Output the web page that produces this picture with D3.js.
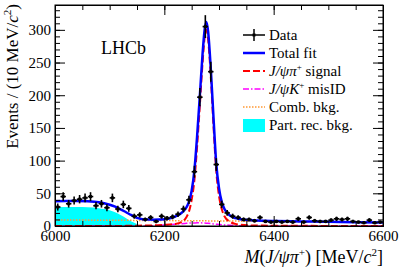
<!DOCTYPE html>
<html>
<head>
<meta charset="utf-8">
<script src="https://cdn.jsdelivr.net/npm/d3@7"></script>
<style>
  body { margin: 0; background: #fff; }
  svg { display: block; font-family: "Liberation Serif", "Times New Roman", serif; }
</style>
</head>
<body>
<svg id="chart" width="399" height="270"></svg>
<script>
// data points: bin centres (10 MeV bins) and counts
var binCentres = [6005,6015,6025,6035,6045,6055,6065,6075,6085,6095,6105,6115,6125,6135,6145,6155,6165,6175,6185,6195,
                  6205,6215,6225,6235,6245,6255,6265,6275,6285,6295,6305,6315,6325,6335,6345,6355,6365,6375,6385,6395,
                  6405,6415,6425,6435,6445,6455,6465,6475,6485,6495,6505,6515,6525,6535,6545,6555,6565,6575,6585,6595];
var counts = [29,45,34,39,41,43,45,31,34,28,43,26,33,27,15,17,10,13,7,15,
              12,14,18,26,40,83,197,305,236,94,33,20,15,13,10,10,8,13,7,6,
              7,6,7,6,11,6,13,8,7,7,9,11,10,11,7,6,5,9,5,6];

// fit curves
var curveMass = [6000,6020,6040,6060,6080,6090,6100,6110,6120,6130,6140,6150,6160,6170,6180,6190,6200,6210,6220,6230,
                 6240,6245,6250,6255,6260,6265,6270,6274,6277,6280,6285,6290,6295,6300,6305,6310,6320,6330,6340,6360,
                 6380,6400,6450,6500,6550,6600];
var totalFit = [37.8,38.2,38.3,37.8,36.3,34.8,32.5,29.5,25.5,21,16.5,12.5,10.5,10,9.7,9.9,10.5,11.7,14.5,19,
                28,37,54,85,138,200,264,302,312,298,240,165,95,58,37,26,16,12.2,10.3,8.8,
                8.0,7.6,7.0,6.4,5.9,5.5];
var signalFit = [0,0,0,0,0,0,0,0,0.1,0.2,0.3,0.5,0.6,0.8,1.0,1.3,1.7,2.2,3.2,5.5,
                 13,22,40,70,122,185,250,290,300,286,228,152,84,46,26,15,6.5,3.2,1.9,0.9,
                 0.6,0.4,0.25,0.15,0.1,0.05];
var misIDFit = [0,0,0,0,0,0,0,0,0,0,0,0,0.1,0.3,0.6,1.0,1.5,2.1,2.8,3.5,
                4.1,4.4,4.6,4.7,4.8,4.8,4.7,4.5,4.3,4.1,3.7,3.2,2.8,2.4,2.0,1.7,1.1,0.7,0.4,0.15,
                0.05,0,0,0,0,0];
var combMass = [6000,6100,6200,6300,6400,6500,6600];
var combFit = [9.3,8.8,8.3,7.7,7.0,6.2,5.4];
var partMass = [6000,6020,6040,6060,6080,6090,6100,6110,6120,6130,6140,6150,6155,6160];
var partFit = [28.5,29,29,28.5,27.3,26,24,21,17,12,7,3,1,0];

var xTicks = [6000,6200,6400,6600];
var yTicks = [0,50,100,150,200,250,300];

var serif = '"Liberation Serif", "Times New Roman", serif';
var svg = d3.select("#chart");
var pLeft = 55, pRight = 383, pTop = 5, pBottom = 226;

var x = d3.scaleLinear().domain([6000, 6600]).range([pLeft, pRight]);
var y = d3.scaleLinear().domain([0, 338]).range([pBottom, pTop]);

svg.append("defs").append("clipPath").attr("id", "plotArea")
  .append("rect").attr("x", pLeft).attr("y", pTop).attr("width", pRight - pLeft).attr("height", pBottom - pTop);

var plot = svg.append("g").attr("clip-path", "url(#plotArea)");

// part. rec. background (filled)
plot.append("path")
  .datum(d3.zip(partMass, partFit))
  .attr("fill", "#00ffff")
  .attr("d", d3.area().x(function(d) { return x(d[0]); }).y0(y(0)).y1(function(d) { return y(d[1]); }).curve(d3.curveMonotoneX));

function drawCurve(mass, vals, colour, width, dash) {
  plot.append("path")
    .datum(d3.zip(mass, vals))
    .attr("fill", "none")
    .attr("stroke", colour)
    .attr("stroke-width", width)
    .attr("stroke-dasharray", dash)
    .attr("d", d3.line().x(function(d) { return x(d[0]); }).y(function(d) { return y(d[1]); }).curve(d3.curveMonotoneX));
}
drawCurve(combMass, combFit, "#ff9933", 1.5, "1.5,1.5");
drawCurve(curveMass, misIDFit, "#ff00ff", 1.5, "6,2,1.5,2");
drawCurve(curveMass, signalFit, "#ff0000", 2, "7,3");
drawCurve(curveMass, totalFit, "#0000ff", 2.5, null);

// data with error bars
var pts = plot.append("g").attr("stroke", "#000").attr("stroke-width", 1.6);
binCentres.forEach(function(m, i) {
  var n = counts[i], err = Math.sqrt(n);
  pts.append("line").attr("x1", x(m - 5)).attr("x2", x(m + 5)).attr("y1", y(n)).attr("y2", y(n));
  pts.append("line").attr("x1", x(m)).attr("x2", x(m)).attr("y1", y(n - err)).attr("y2", y(n + err));
  pts.append("rect").attr("x", x(m) - 1.5).attr("y", y(n) - 1.5).attr("width", 3).attr("height", 3)
    .attr("fill", "#000").attr("stroke", "none");
});

// axes, ROOT style ticks pointing inwards
var xMinor = d3.range(6000, 6601, 50);
var yMinor = d3.range(0, 338, 10);

function addAxis(axis, tx, ty) {
  var g = svg.append("g").attr("transform", "translate(" + tx + "," + ty + ")");
  g.call(axis);
  g.selectAll("text")
    .style("font-family", serif)
    .style("font-size", "15px")
    .style("fill", "#000");
  return g;
}
addAxis(d3.axisBottom(x).tickValues(xMinor).tickSize(-5).tickFormat(""), 0, pBottom);
addAxis(d3.axisBottom(x).tickValues(xTicks).tickSize(-10).tickSizeOuter(0).tickPadding(4).tickFormat(d3.format("d")), 0, pBottom);
addAxis(d3.axisTop(x).tickValues(xMinor).tickSize(-5).tickFormat(""), 0, pTop);
addAxis(d3.axisTop(x).tickValues(xTicks).tickSize(-10).tickSizeOuter(0).tickFormat(""), 0, pTop);
addAxis(d3.axisLeft(y).tickValues(yMinor).tickSize(-5).tickFormat(""), pLeft, 0);
addAxis(d3.axisLeft(y).tickValues(yTicks).tickSize(-10).tickSizeOuter(0).tickPadding(4), pLeft, 0);
addAxis(d3.axisRight(y).tickValues(yMinor).tickSize(-5).tickFormat(""), pRight, 0);
addAxis(d3.axisRight(y).tickValues(yTicks).tickSize(-10).tickSizeOuter(0).tickFormat(""), pRight, 0);

svg.append("rect").attr("x", pLeft).attr("y", pTop).attr("width", pRight - pLeft).attr("height", pBottom - pTop)
  .attr("fill", "none").attr("stroke", "#000").attr("stroke-width", 1);

// axis titles
var xt = svg.append("text").attr("x", pRight).attr("y", 263).attr("text-anchor", "end").attr("font-size", 18);
xt.append("tspan").attr("font-style", "italic").text("M");
xt.append("tspan").text("(");
xt.append("tspan").attr("font-style", "italic").text("J/ψπ");
xt.append("tspan").attr("font-size", 11).attr("dy", -7).text("+");
xt.append("tspan").attr("dy", 7).text(") [MeV/");
xt.append("tspan").attr("font-style", "italic").text("c");
xt.append("tspan").attr("font-size", 11).attr("dy", -7).text("2");
xt.append("tspan").attr("dy", 7).text("]");

var yt = svg.append("text").attr("transform", "translate(18,4) rotate(-90)")
  .attr("text-anchor", "end").attr("font-size", 17);
yt.append("tspan").text("Events / (10 MeV/");
yt.append("tspan").attr("font-style", "italic").text("c");
yt.append("tspan").attr("font-size", 11).attr("dy", -7).text("2");
yt.append("tspan").attr("dy", 7).text(")");

svg.append("text").attr("x", 101).attr("y", 54).attr("font-size", 18).text("LHCb");

// legend
var lx0 = 243, lx1 = 265, tx = 269;
var leg = svg.append("g").attr("font-size", 15);
function legText(yc, parts) {
  var t = leg.append("text").attr("x", tx).attr("y", yc + 5);
  parts.forEach(function(p) {
    var s = t.append("tspan").text(p[0]);
    if (p[1] == "i") s.attr("font-style", "italic");
    if (p[1] == "sup") s.attr("font-size", 9).attr("dy", -6);
    if (p[1] == "after") s.attr("dy", 6);
  });
}
leg.append("line").attr("x1", lx0).attr("x2", lx1).attr("y1", 35).attr("y2", 35).attr("stroke", "#000").attr("stroke-width", 1.5);
leg.append("line").attr("x1", 254).attr("x2", 254).attr("y1", 29).attr("y2", 41).attr("stroke", "#000").attr("stroke-width", 1.5);
leg.append("rect").attr("x", 252.5).attr("y", 33.5).attr("width", 3).attr("height", 3).attr("fill", "#000");
legText(35, [["Data"]]);
leg.append("line").attr("x1", lx0).attr("x2", lx1).attr("y1", 53).attr("y2", 53).attr("stroke", "#0000ff").attr("stroke-width", 2.5);
legText(53, [["Total fit"]]);
leg.append("line").attr("x1", lx0).attr("x2", lx1).attr("y1", 71).attr("y2", 71).attr("stroke", "#ff0000").attr("stroke-width", 2).attr("stroke-dasharray", "7,3");
legText(71, [["J/ψπ", "i"], ["+", "sup"], [" signal", "after"]]);
leg.append("line").attr("x1", lx0).attr("x2", lx1).attr("y1", 89).attr("y2", 89).attr("stroke", "#ff00ff").attr("stroke-width", 1.5).attr("stroke-dasharray", "6,2,1.5,2");
legText(89, [["J/ψK", "i"], ["+", "sup"], [" misID", "after"]]);
leg.append("line").attr("x1", lx0).attr("x2", lx1).attr("y1", 107).attr("y2", 107).attr("stroke", "#ff9933").attr("stroke-width", 1.5).attr("stroke-dasharray", "1.5,1.5");
legText(107, [["Comb. bkg."]]);
leg.append("rect").attr("x", lx0).attr("y", 119).attr("width", lx1 - lx0).attr("height", 13).attr("fill", "#00ffff");
legText(125, [["Part. rec. bkg."]]);
</script>
</body>
</html>
